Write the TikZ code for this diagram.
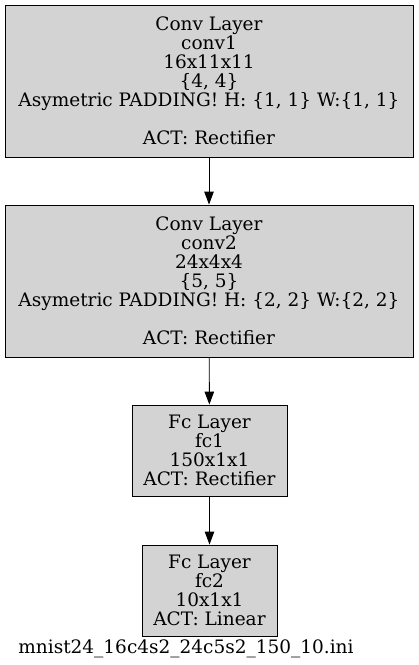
\documentclass[tikz,border=0pt]{standalone}
\usepackage{fontspec}
\setmainfont{DejaVu Serif}
\usepackage{xcolor}
\usetikzlibrary{shapes,arrows.meta,calc,positioning}
\definecolor{layergray}{HTML}{D3D3D3}

\begin{document}
\begin{tikzpicture}[x=1pt, y=-1pt,
  layer/.style={rectangle, draw=black, fill=layergray, line width=0.9pt, align=center, inner sep=0pt, font=\fontsize{18.5}{19}\selectfont},
  arrow/.style={-{Triangle[length=13pt, width=9.5pt]}, line width=0.9pt}
]
\useasboundingbox (0,0) rectangle (419,665);

% Conv layers
\node[layer, minimum width=408pt, minimum height=152pt] (conv1) at (209, 81) {Conv Layer\\conv1\\16x11x11\\\{4, 4\}\\Asymetric PADDING! H: \{1, 1\} W:\{1, 1\}\\[19pt]ACT: Rectifier};
\node[layer, minimum width=408pt, minimum height=152pt] (conv2) at (209, 281) {Conv Layer\\conv2\\24x4x4\\\{5, 5\}\\Asymetric PADDING! H: \{2, 2\} W:\{2, 2\}\\[19pt]ACT: Rectifier};

% Fc layers
\node[layer, minimum width=155pt, minimum height=91pt] (fc1) at (209.5, 450.5) {Fc Layer\\fc1\\150x1x1\\ACT: Rectifier};
\node[layer, minimum width=135pt, minimum height=91pt] (fc2) at (209.5, 590.5) {Fc Layer\\fc2\\10x1x1\\ACT: Linear};

% File name
\node[font=\fontsize{18.5}{19}\selectfont] (title) at (186, 649) {mnist24\_16c4s2\_24c5s2\_150\_10.ini};

% Connections
\draw[arrow] (conv1) -- (conv2);
\draw[arrow] (conv2) -- (fc1);
\draw[arrow] (fc1) -- (fc2);

\end{tikzpicture}
\end{document}
